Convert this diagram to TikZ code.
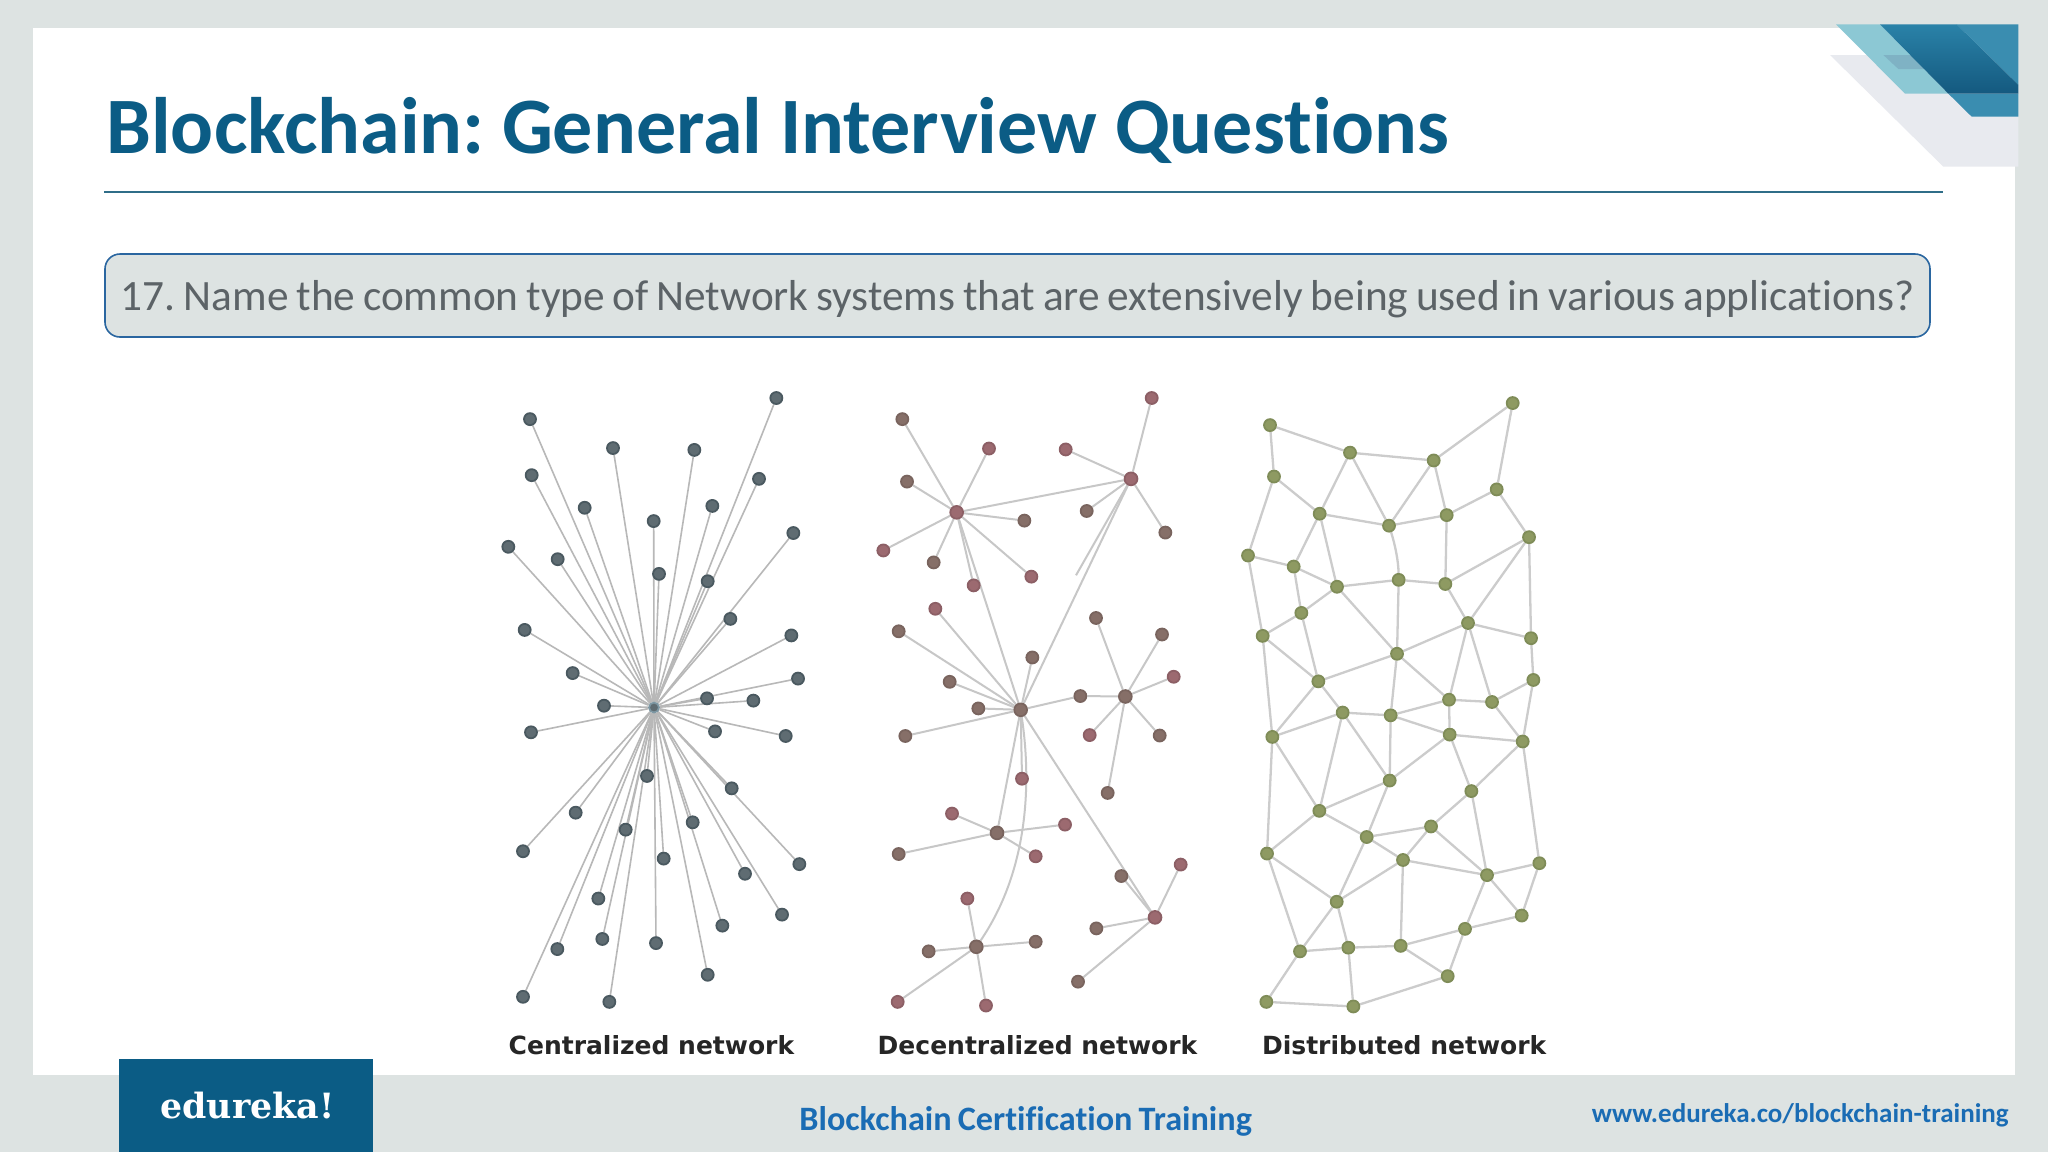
\documentclass[tikz,border=0pt]{standalone}
\usepackage{fontspec}
\setmainfont[Ligatures=NoCommon,WordSpace=0.8]{Carlito}
\newfontfamily\titlefont[Ligatures=NoCommon]{Carlito}
\newfontfamily\labelfont{DejaVu Sans}
\newfontfamily\logofont{DejaVu Serif}
\usepackage{xcolor}
\usepackage{tikz}
\usetikzlibrary{positioning}
\definecolor{slidegrey}{HTML}{DDE3E2}
\definecolor{titleblue}{HTML}{0B5C85}
\definecolor{ruleblue}{HTML}{2F6D88}
\definecolor{footblue}{HTML}{1A6CB4}
\definecolor{boxline}{HTML}{2A66A0}
\definecolor{asktext}{HTML}{5C6367}
\definecolor{darkM}{HTML}{866F68}
\definecolor{darkR}{HTML}{9C6A70}
\definecolor{cline}{HTML}{4A5960}
\definecolor{cfill}{HTML}{5F6C72}
\definecolor{gline}{HTML}{7F8C58}
\definecolor{gfill}{HTML}{8E9A62}
\definecolor{cornerpale}{HTML}{E8EAEF}
\definecolor{cornerlight}{HTML}{8CC8D4}
\definecolor{cornerover}{HTML}{7FB2C4}
\definecolor{cornermid}{HTML}{3A8DB0}
\definecolor{cornertop}{HTML}{2A82A8}
\definecolor{cornerlow}{HTML}{14597F}
\pgfdeclarelayer{dots}
\pgfsetlayers{main,dots}
\tikzset{
  netdot/.style={circle,inner sep=0pt,minimum size=6pt,line width=0.9pt},
  cdot/.style={netdot,draw=cline,fill=cfill},
  ddot/.style={netdot,draw=dark#1!90!black,fill=dark#1},
  gdot/.style={netdot,draw=gline,fill=gfill},
  clink/.style={draw=black!28,line width=0.8pt},
  dlink/.style={draw=black!22,line width=1pt},
  glink/.style={draw=black!20,line width=1.15pt},
  netlabel/.style={anchor=base west,inner sep=0pt,font=\labelfont\bfseries\fontsize{12.5}{15}\selectfont,text=black!85}
}
\begin{document}
\begin{tikzpicture}[x=0.5pt,y=-0.5pt]
\useasboundingbox (0,0) rectangle (2048,1152);
\fill[slidegrey] (0,0) rectangle (2048,1152);
\fill[white] (33,28) rectangle (2015,1075);

\begin{scope}[shift={(1760,0)},x=0.16667pt,y=-0.16667pt]
\fill[cornerpale] (210,165)--(775,165)--(775,500)--(550,500)--cycle;
\fill[cornerlight] (228,73)--(360,73)--(565,281)--(435,281)--cycle;
\fill[cornerover] (370,165)--(452,165)--(494,207)--(415,207)--cycle;
\fill[cornermid] (565,281)--(775,281)--(775,350)--(635,350)--cycle;
\fill[cornermid] (590,73)--(775,73)--(775,255)--cycle;
\shade[top color=cornertop,bottom color=cornerlow] (360,73)--(590,73)--(775,255)--(775,281)--(565,281)--cycle;
\end{scope}

\node(Title) [anchor=base west,inner sep=0pt,text=titleblue,font=\titlefont\bfseries\fontsize{40}{48}\selectfont] at (106,153) {Blockchain:\kern-0.4pt\ General Interview Questions};
\coordinate(RuleL) at (104,192);
\coordinate(RuleR) at (1943,192);
\draw[ruleblue,line width=0.9pt] (RuleL)--(RuleR);

\draw[boxline,fill=slidegrey,line width=0.8pt,rounded corners=7.5pt] (105,254) rectangle (1930,337);
\node(Ask) [anchor=base west,inner sep=0pt,text=asktext,font=\fontsize{21.65}{25}\selectfont] at (120,310) {17.\kern0.4pt\ Name the common type of Network systems that are extensively being used in various applications?};

\begin{scope}[shift={(480,370)},x=0.16667pt,y=-0.2296pt]
\begin{pgfonlayer}{dots}
\node(Hub) [cdot,draw=black!60!cyan!60!slidegrey,minimum size=5pt] at (522,735) {};
\end{pgfonlayer}
\foreach \i/\x/\y in {1/150/107,2/399/170,3/643/174,4/889/61,5/155/229,6/837/237,7/314/300,8/521/329,9/697/296,10/85/385,11/233/412,12/940/355,13/537/444,14/683/460,15/134/566,16/751/542,17/934/578,18/278/660,19/954/672,20/372/731,21/681/715,22/820/720,23/153/789,24/705/787,25/917/797,26/501/884,27/755/911,28/287/964,29/437/1001,30/638/985,31/129/1048,32/551/1064,33/795/1097,34/958/1076,35/355/1151,36/906/1186,37/367/1239,38/232/1261,39/528/1248,40/727/1210,41/683/1317,42/129/1365,43/388/1376} {
\begin{pgfonlayer}{dots}
\node(c\i) [cdot] at (\x,\y) {};
\end{pgfonlayer}
\draw[clink] (Hub)--(c\i);
}
\node(CLabel) [netlabel] at (85,1490) {Centralized network};
\end{scope}

\begin{scope}[shift={(850,370)},x=0.16667pt,y=-0.2296pt]
\begin{pgfonlayer}{dots}
\foreach \h/\x/\y/\c in {A/320/310/R,B/843/237/R,C/512/740/M,D/826/711/M,E/441/1008/M,F/379/1256/M,G/915/1192/R} {
\node(d\h) [ddot=\c,minimum size=6.4pt] at (\x,\y) {};
}
\end{pgfonlayer}
\foreach \h/\n/\x/\y/\c in {A/1/157/107/M,A/2/417/171/R,A/3/171/243/M,A/4/523/328/M,A/5/100/393/R,A/6/251/419/M,A/7/544/450/R,A/8/371/469/R,
B/1/905/61/R,B/2/647/173/R,B/3/710/307/M,B/4/946/354/M,
C/1/256/520/R,C/2/146/569/M,C/3/547/626/M,C/4/299/679/M,C/5/385/737/M,C/6/166/797/M,C/7/516/890/R,C/8/691/710/M,
D/1/738/540/M,D/2/936/576/M,D/3/971/668/R,D/4/719/795/R,D/5/929/796/M,D/6/773/921/M,
E/1/306/966/R,E/2/645/990/R,E/3/146/1054/M,E/4/557/1059/R,
F/1/352/1151/R,F/2/557/1245/M,F/3/236/1266/M,F/4/143/1376/R,F/5/408/1384/R,
G/1/992/1077/R,G/2/814/1102/M,G/3/739/1216/M,G/4/684/1332/M} {
\begin{pgfonlayer}{dots}
\node(d\h\n) [ddot=\c] at (\x,\y) {};
\end{pgfonlayer}
\draw[dlink] (d\h)--(d\h\n);
}
\coordinate(Stray) at (678,447);
\draw[dlink] (dB)--(Stray);
\draw[dlink] (dC8)--(dD);
\foreach \a/\b in {A/B,A/C,B/C,C/E,C/G} {
\draw[dlink] (d\a)--(d\b);
}
\draw[dlink] (dC) .. controls (545,900) and (535,1090) .. (dF);
\node(DLabel) [netlabel] at (82,1490) {Decentralized network};
\end{scope}

\begin{scope}[shift={(1220,370)},x=0.16667pt,y=-0.2296pt]
\begin{pgfonlayer}{dots}
\foreach \i/\x/\y in {1/150/120,2/390/180,3/641/197,4/878/72,5/162/232,6/830/260,7/299/313,8/507/339,9/680/316,10/927/364,11/84/404,12/221/428,13/351/472,14/536/457,15/676/466,16/744/551,17/244/529,18/128/579,19/933/584,20/531/618,21/295/678,22/940/675,23/687/718,24/816/723,25/368/746,26/512/752,27/157/799,28/689/794,29/908/809,30/509/894,31/754/917,32/298/960,33/633/994,34/440/1017,35/141/1053,36/549/1067,37/958/1074,38/801/1100,39/350/1158,40/905/1188,41/735/1217,42/240/1266,43/385/1258,44/542/1254,45/683/1320,46/139/1376,47/400/1386} {
\node(g\i) [gdot] at (\x,\y) {};
}
\end{pgfonlayer}
\foreach \a/\b in {1/2,1/5,2/3,2/7,2/8,3/4,3/8,3/9,4/6,5/7,5/11,6/9,6/10,7/8,7/12,7/13,8/9,9/15,10/15,10/16,10/19,11/12,11/18,12/13,12/17,13/14,13/17,13/20,14/15,14/20,15/16,16/19,16/20,16/23,16/24,17/18,17/21,18/21,18/27,19/22,20/21,20/23,20/26,21/25,21/27,22/24,22/29,23/24,23/26,23/28,24/29,25/26,25/27,25/30,25/32,26/28,26/30,27/32,27/35,28/29,28/30,28/31,29/31,29/37,30/32,30/34,31/33,31/38,32/34,32/35,33/34,33/36,33/38,34/36,34/39,35/39,35/42,36/38,36/39,36/44,37/38,37/40,38/40,38/41,39/42,39/43,40/41,41/44,41/45,42/43,42/46,43/44,43/47,44/45,45/47,46/47} {
\draw[glink] (g\a)--(g\b);
}
\draw[glink] (g8) .. controls (525,380) and (535,415) .. (g14);
\node(GLabel) [netlabel] at (125,1490) {Distributed network};
\end{scope}

\fill[titleblue] (119,1059) rectangle (373,1152);
\node(Logo) [anchor=base west,inner sep=0pt,text=white,font=\logofont\bfseries\fontsize{17.4}{20}\selectfont] at (160,1118) {edureka!};
\node(Course) [anchor=base west,inner sep=0pt,text=footblue,font=\bfseries\fontsize{17.1}{20}\selectfont] at (799,1130) {Blockchain Certification Training};
\node(Site) [anchor=base east,inner sep=0pt,text=footblue,font=\bfseries\fontsize{13.5}{17}\selectfont] at (2009,1122) {www.edureka.co/blockchain-training};
\end{tikzpicture}
\end{document}
